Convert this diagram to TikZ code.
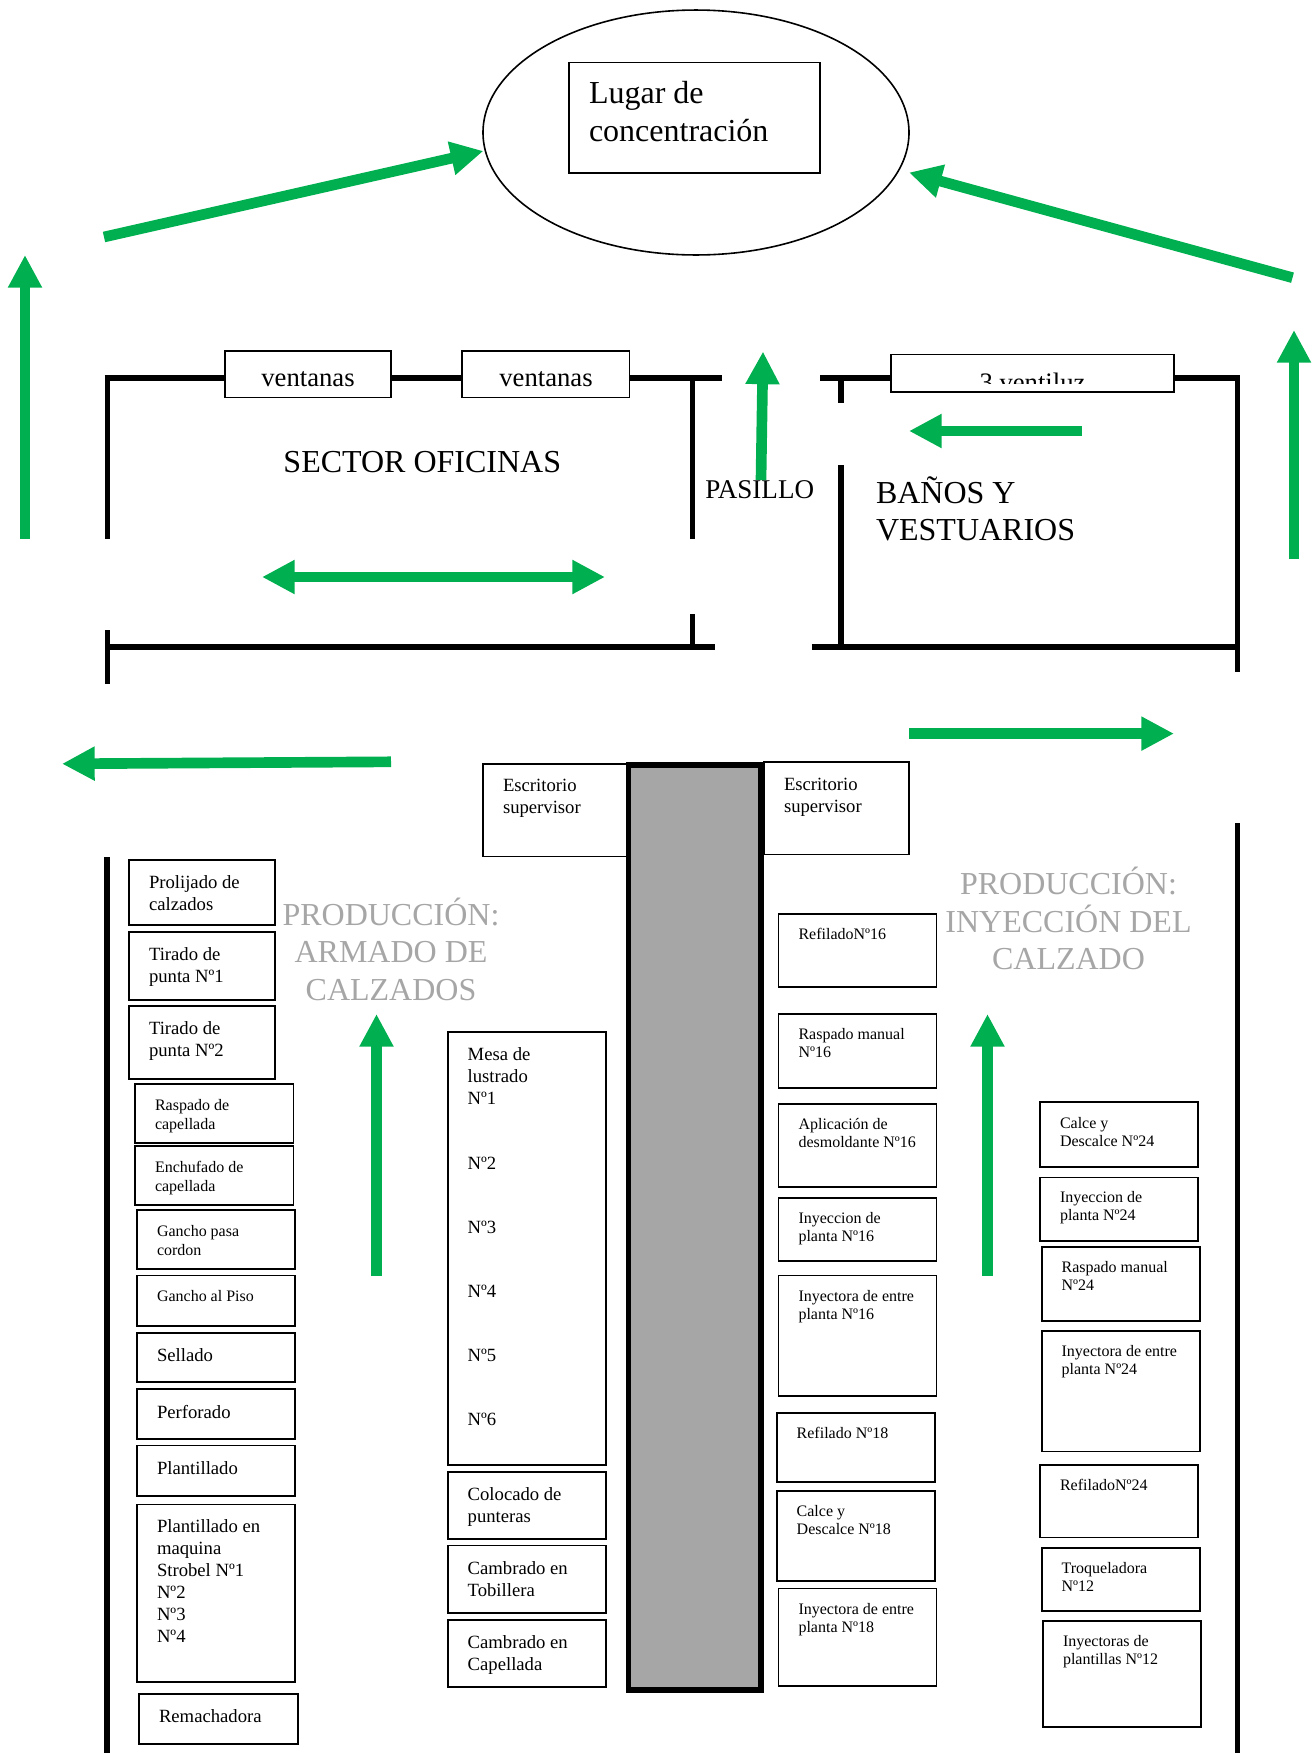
\documentclass[tikz,border=0pt]{standalone}
\usepackage{fontspec}
\setmainfont{Liberation Serif}
\usetikzlibrary{arrows.meta,shapes.geometric}
\definecolor{arrowgreen}{HTML}{00B050}
\definecolor{heading}{HTML}{A6A6A6}
\tikzset{
  boxy/.style={draw=black,line width=1.4pt,fill=white,inner sep=0pt,outer sep=0pt,anchor=north west},
  wall/.style={draw=black,line width=3.9pt},
  go/.style={draw=arrowgreen,line width=8pt,-{Triangle[length=24.5pt,width=24pt]}},
  gotwo/.style={draw=arrowgreen,line width=8pt,{Triangle[length=24.5pt,width=24pt]}-{Triangle[length=24.5pt,width=24pt]}},
  free/.style={inner sep=0pt,outer sep=0pt,align=left,anchor=north west},
  title/.style={inner sep=0pt,outer sep=0pt,align=center,anchor=north,text=heading,font=\fontsize{24}{27.9}\selectfont}
}
\newcommand\fa{\fontsize{14}{16.5}\selectfont\def\boff{21pt}}
\newcommand\fd{\fontsize{14}{16.5}\selectfont\def\boff{21.8pt}}
\newcommand\fb{\fontsize{12}{13.6}\selectfont\def\boff{19.5pt}}
\newcommand\fe{\fontsize{12}{13.6}\selectfont\def\boff{18.8pt}}
\newcommand\fc{\fontsize{12}{14.3}\selectfont\def\boff{19.5pt}}
\newcommand\fl{\fontsize{24}{28.5}\selectfont\def\boff{30.4pt}}
\newcommand\bx[7]{%
  \pgfmathsetlengthmacro\bw{(#4-#2)*0.75pt}%
  \pgfmathsetlengthmacro\bh{(#5-#3)*0.75pt}%
  \node[boxy] (#1) at (#2,#3) {\parbox[c][\bh][t]{\bw}{#6\raggedright\leftskip=15pt\rule{0pt}{\boff}#7}};%
}
\begin{document}
\begin{tikzpicture}[x=0.75pt,y=-0.75pt]
\useasboundingbox (0,0) rectangle (1316,1753);

% ---- assembly point
\node[draw=black,line width=1.2pt,ellipse,inner sep=0pt,outer sep=0pt,minimum width=319.5pt,minimum height=183.7pt] (conc) at (696,132.5) {};
\bx{lugar}{569}{62.5}{820}{173}{\fl}{Lugar de\\concentración}

% ---- walls, offices and changing rooms
\coordinate (wa) at (104.5,378); \coordinate (wb) at (722,378);
\coordinate (wc) at (107.4,378); \coordinate (wd) at (107.4,539);
\coordinate (we) at (692.4,378); \coordinate (wf) at (692.4,539);
\coordinate (wg) at (692.4,614); \coordinate (wh) at (692.4,647);
\coordinate (wi) at (107.4,647); \coordinate (wj) at (715,647);
\coordinate (wk) at (107.4,630); \coordinate (wl) at (107.4,684);
\coordinate (wm) at (820,378); \coordinate (wn) at (1239.6,378);
\coordinate (wo) at (1237.2,378); \coordinate (wp) at (1237.2,672);
\coordinate (wq) at (841,378); \coordinate (wr) at (841,403);
\coordinate (ws) at (841,465); \coordinate (wt) at (841,647);
\coordinate (wu) at (811.6,647); \coordinate (wv) at (1237,647);
\coordinate (ww) at (107,857); \coordinate (wx) at (107,1753);
\coordinate (wy) at (1237.4,823); \coordinate (wz) at (1237.4,1753);
\draw[wall] (wa) -- (wb);
\draw[wall] (wc) -- (wd);
\draw[wall] (we) -- (wf);
\draw[wall] (wg) -- (wh);
\draw[wall] (wi) -- (wj);
\draw[wall] (wk) -- (wl);
\draw[wall] (wm) -- (wn);
\draw[wall] (wo) -- (wp);
\draw[wall] (wq) -- (wr);
\draw[wall] (ws) -- (wt);
\draw[wall] (wu) -- (wv);
\draw[wall] (ww) -- (wx);
\draw[wall] (wy) -- (wz);

% ---- windows
\node[boxy,minimum width=124.5pt,minimum height=34.9pt] (vent1) at (225,351) {};
\node[boxy,minimum width=125.3pt,minimum height=34.9pt] (vent2) at (462.4,351) {};
\node[inner sep=0pt,anchor=base,font=\fontsize{20}{24}\selectfont] (vent1t) at (308,386.5) {ventanas};
\node[inner sep=0pt,anchor=base,font=\fontsize{20}{24}\selectfont] (vent2t) at (546,386.5) {ventanas};
\node[boxy,minimum width=212.3pt,minimum height=28.1pt] (vent3) at (891,354.5) {};
\begin{scope}
  \clip (892,355) rectangle (1173,383);
  \node[inner sep=0pt,anchor=base,font=\fontsize{20}{24}\selectfont] (vent3t) at (1032.5,391) {3 ventiluz};
\end{scope}

% ---- room labels
\node[inner sep=0pt,anchor=base west,font=\fontsize{24}{28}\selectfont] (oficinas) at (283.2,472) {SECTOR OFICINAS};
\node[inner sep=0pt,anchor=base west,font=\fontsize{20.3}{24}\selectfont] (pasillo) at (705,498.5) {PASILLO};
\node[free,font=\fontsize{24}{28}\selectfont] (banos) at (876,473) {\rule{0pt}{22.5pt}BAÑOS Y\\VESTUARIOS};
\node[title] (armado) at (391,895.6) {\rule{0pt}{22.5pt}PRODUCCIÓN:\\ARMADO DE\\CALZADOS};
\node[title] (inyeccion) at (1068.5,864.8) {\rule{0pt}{22.5pt}PRODUCCIÓN:\\INYECCIÓN DEL\\CALZADO};

% ---- supervisor desks and central block
\bx{escl}{483}{763.8}{627.5}{856.5}{\fa}{Escritorio\\supervisor}
\bx{escr}{764}{761.8}{909}{854.5}{\fd}{Escritorio\\supervisor}
\node[draw=black,line width=3.9pt,fill=heading,inner sep=0pt,outer sep=0pt,minimum width=99.4pt,minimum height=693.7pt] (bloque) at (694.75,1227.5) {};

% ---- left column
\bx{b01}{129}{860}{275}{925}{\fa}{Prolijado de\\calzados}
\bx{b02}{129}{932.4}{275}{1000}{\fa}{Tirado de\\punta Nº1}
\bx{b03}{129}{1006}{275}{1079}{\fa}{Tirado de\\punta Nº2}
\bx{b04}{135}{1084}{293.5}{1143}{\fc}{Raspado de\\capellada}
\bx{b05}{135}{1146}{293.5}{1205}{\fc}{Enchufado de\\capellada}
\bx{b06}{137}{1210}{295.4}{1269}{\fc}{Gancho pasa\\cordon}
\bx{b07}{137}{1275.5}{295.4}{1326}{\fc}{Gancho al Piso}
\bx{b08}{137}{1332.6}{295.4}{1382}{\fd}{Sellado}
\bx{b09}{137}{1389}{295.4}{1439}{\fd}{Perforado}
\bx{b10}{137}{1445.5}{295.4}{1496}{\fd}{Plantillado}
\bx{b11}{137}{1504.5}{295.4}{1682}{\fa}{Plantillado en\\maquina\\Strobel Nº1\\Nº2\\Nº3\\Nº4}
\bx{b12}{139}{1694}{297.7}{1743.6}{\fa}{Remachadora}

% ---- middle column
\bx{m01}{447.7}{1031.8}{605.7}{1465}{\fd}{Mesa de\\lustrado\\Nº1\\[31.6pt]Nº2\\[31.6pt]Nº3\\[31.6pt]Nº4\\[31.6pt]Nº5\\[31.6pt]Nº6}
\bx{m02}{447.7}{1472}{605.7}{1538.8}{\fa}{Colocado de\\punteras}
\bx{m03}{447.7}{1545.5}{605.7}{1612.7}{\fd}{Cambrado en\\Tobillera}
\bx{m04}{447.7}{1620}{605.7}{1686.6}{\fa}{Cambrado en\\Capellada}

% ---- right inner column
\bx{r01}{778.5}{913.6}{936.5}{986.8}{\fb}{RefiladoNº16}
\bx{r02}{778.5}{1013.6}{936.5}{1088}{\fb}{Raspado manual\\Nº16}
\bx{r03}{778.5}{1103.6}{936.5}{1187}{\fb}{Aplicación de\\desmoldante Nº16}
\bx{r04}{778.5}{1197.6}{936.5}{1261.4}{\fb}{Inyeccion de\\planta Nº16}
\bx{r05}{778.5}{1275.5}{936.5}{1396.4}{\fb}{Inyectora de entre\\planta Nº16}
\bx{r06}{776.7}{1412.6}{935}{1481.7}{\fb}{Refilado Nº18}
\bx{r07}{776.7}{1491}{935}{1581}{\fe}{Calce y\\Descalce Nº18}
\bx{r08}{778.5}{1588.5}{936.5}{1686}{\fb}{Inyectora de entre\\planta Nº18}

% ---- right outer column
\bx{s01}{1040}{1102.3}{1198}{1167.4}{\fb}{Calce y\\Descalce Nº24}
\bx{s02}{1040}{1177.5}{1198}{1240.6}{\fe}{Inyeccion de\\planta Nº24}
\bx{s03}{1041.6}{1247.3}{1199.7}{1321}{\fe}{Raspado manual\\Nº24}
\bx{s04}{1041.6}{1331}{1199.7}{1451.5}{\fe}{Inyectora de entre\\planta Nº24}
\bx{s05}{1040}{1465}{1198}{1537.5}{\fe}{RefiladoNº24}
\bx{s06}{1041.6}{1548}{1199.7}{1611}{\fe}{Troqueladora\\Nº12}
\bx{s07}{1043}{1620.7}{1201.4}{1727}{\fb}{Inyectoras de\\plantillas Nº12}

% ---- green evacuation arrows
\coordinate (a1s) at (25,539);      \coordinate (a1e) at (25,255);
\coordinate (a2s) at (104,237);     \coordinate (a2e) at (483.4,151);
\coordinate (a3s) at (1292.5,277.7);\coordinate (a3e) at (909,172.5);
\coordinate (a4s) at (1294,559);    \coordinate (a4e) at (1294,330);
\coordinate (a5s) at (761,480);     \coordinate (a5e) at (763,351.5);
\coordinate (a6s) at (1082,431);    \coordinate (a6e) at (909,431);
\coordinate (a7s) at (262,577);     \coordinate (a7e) at (605,577);
\coordinate (a8s) at (909,733.6);   \coordinate (a8e) at (1174,733.6);
\coordinate (a9s) at (391,761.8);   \coordinate (a9e) at (62,763.8);
\coordinate (a10s) at (376.5,1275.5); \coordinate (a10e) at (376.5,1014);
\coordinate (a11s) at (987.5,1275.5);\coordinate (a11e) at (987.5,1014);
\draw[go] (a1s) -- (a1e);
\draw[go] (a2s) -- (a2e);
\draw[go] (a3s) -- (a3e);
\draw[go] (a4s) -- (a4e);
\draw[go] (a5s) -- (a5e);
\draw[go] (a6s) -- (a6e);
\draw[gotwo] (a7s) -- (a7e);
\draw[go] (a8s) -- (a8e);
\draw[go] (a9s) -- (a9e);
\draw[go] (a10s) -- (a10e);
\draw[go] (a11s) -- (a11e);
\end{tikzpicture}
\end{document}
